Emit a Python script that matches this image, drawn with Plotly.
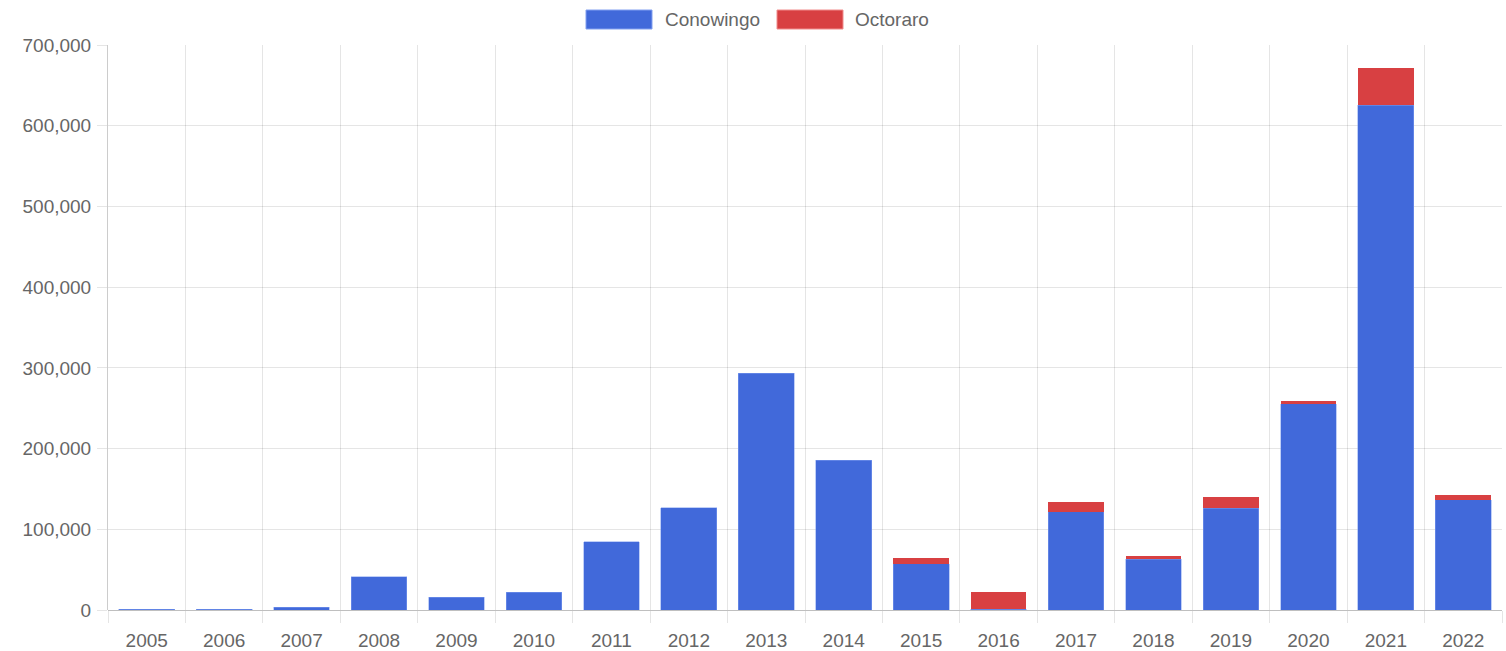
import plotly.graph_objects as go

years = ["2005", "2006", "2007", "2008", "2009", "2010", "2011", "2012", "2013",
         "2014", "2015", "2016", "2017", "2018", "2019", "2020", "2021", "2022"]
conowingo = [1000, 1000, 3500, 41300, 16100, 22300, 84400, 126800, 293600,
             185800, 57400, 1200, 121800, 62800, 126000, 255500, 625400, 136400]
octoraro = [0, 0, 0, 0, 0, 0, 0, 0, 0,
            0, 6600, 21500, 11700, 4500, 14500, 3300, 45600, 5800]
y_ticks = [0, 100000, 200000, 300000, 400000, 500000, 600000, 700000]

BLUE = "rgba(65,105,218,1)"
BLUE_EDGE = "rgba(130,160,240,1)"
RED = "rgba(216,64,66,1)"
RED_EDGE = "rgba(240,140,140,1)"
GRID = "rgba(0,0,0,0.1)"
FONT = "Liberation Sans, Arial, sans-serif"
TXT = "#666666"

xs = list(range(len(years)))

fig = go.Figure()
fig.add_trace(go.Bar(x=xs, y=conowingo, name="Conowingo", width=0.72,
                     marker=dict(color=BLUE, line=dict(color=BLUE_EDGE, width=0.5))))
fig.add_trace(go.Bar(x=xs, y=octoraro, name="Octoraro", width=0.72,
                     marker=dict(color=RED, line=dict(width=0))))

fig.update_layout(
    barmode="stack",
    width=1506, height=651,
    margin=dict(l=108, r=4, t=45, b=41),
    plot_bgcolor="white", paper_bgcolor="white",
    showlegend=False,
    font=dict(family=FONT, size=19, color=TXT),
    xaxis=dict(
        range=[-0.5, len(years) - 0.5],
        tickvals=xs, ticktext=years, automargin=False,
        showgrid=False, ticks="outside", ticklen=13, tickcolor="rgba(0,0,0,0)",
        zeroline=False, showline=False,
        minor=dict(tick0=0.5, dtick=1, showgrid=True, gridcolor=GRID, gridwidth=1,
                   ticks="outside", ticklen=12, tickcolor=GRID),
        tickfont=dict(size=19, color=TXT),
    ),
    yaxis=dict(
        range=[0, 700000], automargin=False,
        tickvals=y_ticks, tickformat=",d",
        showgrid=True, gridcolor=GRID, gridwidth=1,
        ticks="outside", ticklen=10, tickcolor=GRID,
        ticklabelstandoff=2,
        zeroline=True, zerolinecolor="rgba(0,0,0,0.25)", zerolinewidth=1,
        showline=True, linecolor="rgba(0,0,0,0.2)", linewidth=1,
        tickfont=dict(size=19, color=TXT),
    ),
)

# Legend (Chart.js style wide swatches)
legend_items = [("Conowingo", BLUE, BLUE_EDGE, 586, 652, 663),
                ("Octoraro", RED, RED_EDGE, 777, 843, 853)]
W, H = 1506, 651
for name, col, edge, x0, x1, tx in legend_items:
    fig.add_shape(type="rect", xref="paper", yref="paper",
                  x0=(x0 - 108) / (W - 112), x1=(x1 - 108) / (W - 112),
                  y0=1 + (45 - 29) / 565, y1=1 + (45 - 10) / 565,
                  fillcolor=col, line=dict(color=edge, width=1))
    fig.add_annotation(xref="paper", yref="paper",
                       x=(tx - 108) / (W - 112), y=1 + (45 - 19.5) / 565,
                       text=name, showarrow=False, xanchor="left", yanchor="middle",
                       font=dict(family=FONT, size=19, color=TXT))

fig.write_html("out.html", config={"displayModeBar": False},
               post_script="document.body.style.margin='0';document.body.style.overflow='hidden';")
